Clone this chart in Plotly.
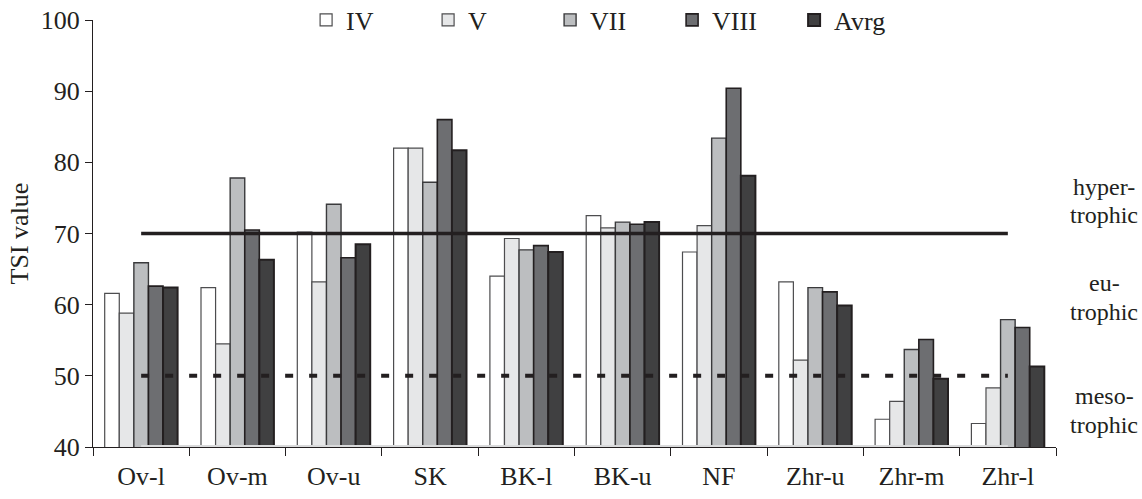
import plotly.graph_objects as go

# Sampling sites and monthly TSI values
sites = ["Ov-l", "Ov-m", "Ov-u", "SK", "BK-l", "BK-u", "NF", "Zhr-u", "Zhr-m", "Zhr-l"]
tsi_iv = [61.6, 62.4, 70.2, 82.0, 64.0, 72.5, 67.4, 63.2, 43.9, 43.3]
tsi_v = [58.8, 54.5, 63.2, 82.0, 69.3, 70.8, 71.1, 52.2, 46.4, 48.3]
tsi_vii = [65.9, 77.8, 74.1, 77.2, 67.7, 71.6, 83.4, 62.4, 53.7, 57.9]
tsi_viii = [62.6, 70.5, 66.6, 86.0, 68.3, 71.3, 90.4, 61.8, 55.1, 56.8]
tsi_avrg = [62.4, 66.3, 68.5, 81.7, 67.4, 71.6, 78.1, 59.9, 49.6, 51.3]

# Trophic state boundaries
hyper_limit = 70
meso_limit = 50
oligo_limit = 40

# Trophic class labels on the right (two lines each, with their y levels)
zone_lines = ["hyper-", "trophic", "eu-", "trophic", "meso-", "trophic"]
zone_levels = [76.6, 72.6, 63.0, 59.0, 47.1, 43.1]

FONT = "Liberation Serif"
INK = "#231f20"
FS = 26

series = [
    ("IV", tsi_iv, "#ffffff", "#4d4d4f", 1.2),
    ("V", tsi_v, "#e6e7e8", "#4d4d4f", 1.2),
    ("VII", tsi_vii, "#bcbec0", "#3a3a3c", 1.4),
    ("VIII", tsi_viii, "#6d6e71", INK, 1.6),
    ("Avrg", tsi_avrg, "#404041", INK, 2.0),
]

fig = go.Figure()
for name, vals, fill, edge, lw in series:
    fig.add_trace(go.Bar(
        x=sites, y=vals, name=name,
        marker=dict(color=fill, line=dict(color=edge, width=lw)),
        base=0,
    ))

fig.add_trace(go.Scatter(
    x=sites, y=[hyper_limit] * len(sites), mode="lines",
    line=dict(color=INK, width=3.5), showlegend=False, hoverinfo="skip",
))
fig.add_trace(go.Scatter(
    x=sites, y=[meso_limit] * len(sites), mode="lines",
    line=dict(color=INK, width=4, dash="8px,16px"), showlegend=False, hoverinfo="skip",
))
fig.add_trace(go.Scatter(
    x=sites, y=[oligo_limit] * len(sites), mode="lines",
    line=dict(color="#d9dadb", width=4), showlegend=False, hoverinfo="skip",
))

for text, yv in zip(zone_lines, zone_levels):
    fig.add_annotation(
        text=text, xref="paper", yref="y", x=1.05, y=yv,
        xanchor="center", yanchor="middle", showarrow=False,
        font=dict(family=FONT, size=24, color=INK),
    )

fig.update_layout(
    width=1142, height=499,
    margin=dict(l=93, r=86, t=20, b=52, autoexpand=False),
    paper_bgcolor="white", plot_bgcolor="white",
    barmode="group", bargap=0.243, bargroupgap=0,
    font=dict(family=FONT, size=FS, color=INK),
    legend=dict(
        orientation="h", x=0.538, xanchor="center", y=1.0, yanchor="middle",
        font=dict(family=FONT, size=FS, color=INK),
        entrywidth=77, entrywidthmode="pixels",
        bgcolor="rgba(0,0,0,0)", itemclick=False,
    ),
    showlegend=True,
)

fig.update_xaxes(
    type="category", showgrid=False, zeroline=False,
    showline=True, linecolor=INK, linewidth=1,
    ticks="outside", tickson="boundaries", ticklen=8, tickcolor=INK, tickwidth=1,
    tickfont=dict(family=FONT, size=FS, color=INK), ticklabelstandoff=6,
)
fig.update_yaxes(
    range=[40, 100], dtick=10, showgrid=False, zeroline=False,
    showline=True, linecolor=INK, linewidth=1,
    ticks="outside", ticklen=7, tickcolor=INK, tickwidth=1,
    tickfont=dict(family=FONT, size=FS, color=INK),
    title=dict(text="TSI value", font=dict(family=FONT, size=FS, color=INK), standoff=4),
)

fig.write_html("out.html")
